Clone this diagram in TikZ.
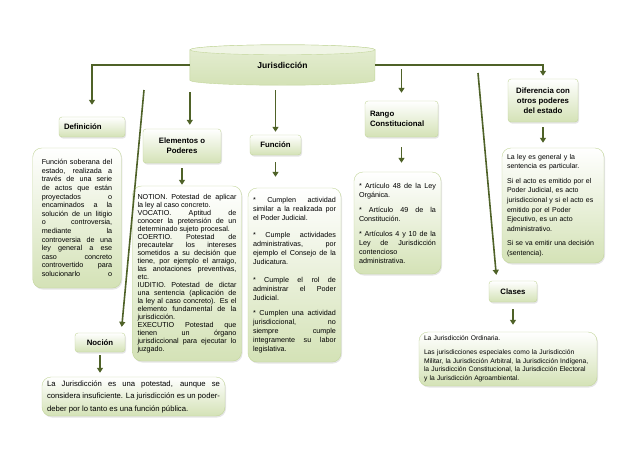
\documentclass[tikz,border=0pt]{standalone}
\usepackage{fontspec}
\setmainfont{Liberation Sans}
\usetikzlibrary{arrows.meta,positioning,calc,shadows,backgrounds}
\definecolor{lineolive}{HTML}{4F6228}
\definecolor{boxgreen}{HTML}{D4E2B6}
\definecolor{boxedge}{HTML}{C3D69B}

\begin{document}
\begin{tikzpicture}[
  x=1pt, y=-1pt, >={Triangle[width=6pt,length=5pt]},
  conn/.style={->, draw=lineolive, line width=1.6pt},
  headbox/.style={rectangle, rounded corners=3pt, draw=boxedge, top color=white, bottom color=boxgreen, align=center, inner xsep=5pt, inner ysep=2pt,
    font=\bfseries\fontsize{7.8}{10}\selectfont, drop shadow={shadow xshift=1pt, shadow yshift=-1.5pt, opacity=0.2}},
  notebox/.style={rectangle, rounded corners=9pt, draw=boxedge, top color=white, bottom color=boxgreen, align=justify, inner xsep=5pt, inner ysep=3pt,
    font=\fontsize{7.2}{9}\selectfont,
    execute at begin node={\setlength{\parindent}{0pt}\hyphenpenalty=10000 \tolerance=10000 },
    drop shadow={shadow xshift=1pt, shadow yshift=-1.5pt, opacity=0.2}}
]
\useasboundingbox (0,0) rectangle (638,451);

% top node
\node[minimum width=185pt, minimum height=40pt, font=\bfseries\fontsize{8.5}{10}\selectfont] (jur) at (282.5,65) {Jurisdicción};
\begin{scope}[on background layer]
  \fill[white] (0,0) rectangle (638,451);
  \path[draw=boxedge, top color=boxgreen!60, bottom color=boxgreen] ($(jur.north west)+(0,5)$) -- ($(jur.south west)+(0,-5)$)
    arc[start angle=180, end angle=360, x radius=92.5pt, y radius=5pt] -- ($(jur.north east)+(0,5)$)
    arc[start angle=0, end angle=180, x radius=92.5pt, y radius=5pt] -- cycle;
  \path[draw=boxedge, fill=boxgreen!35] ($(jur.north)+(0,5)$) ellipse[x radius=92.5pt, y radius=5pt];
\end{scope}

% headings
\node[headbox, text width=56pt, align=left, minimum height=20pt] (def) at (92,127) {Definición};
\node[headbox, minimum width=78pt, minimum height=34pt] (elem) at (182,146) {Elementos o\\Poderes};
\node[headbox, minimum width=51pt, minimum height=20pt] (fun) at (275.5,145) {Función};
\node[headbox, text width=63pt, align=left, minimum height=36pt] (rango) at (401.5,119) {Rango\\Constitucional};
\node[headbox, minimum width=70pt, minimum height=43pt] (dif) at (543,100.5) {Diferencia con\\otros poderes\\del estado};
\node[headbox, minimum width=48pt, minimum height=21pt] (cls) at (513,291.5) {Clases};
\node[headbox, minimum width=50pt, minimum height=19pt] (noc) at (100,342.5) {Noción};

% texts
\node[notebox, text width=70.5pt, inner xsep=9pt, minimum height=140pt, font=\fontsize{7.2}{8.6}\selectfont] (deftxt) at (77,218) {Función soberana del\linebreak estado, realizada a\linebreak través de una serie\linebreak de actos que están\linebreak proyectados o\linebreak encaminados a la\linebreak solución de un litigio\linebreak o controversia,\linebreak mediante la\linebreak controversia de una\linebreak ley general a ese\linebreak caso concreto\linebreak controvertido para\linebreak solucionarlo\hfill o};
\node[notebox, text width=99pt, minimum height=175pt, font=\fontsize{7.2}{8}\selectfont] (elemtxt) at (187,273.5) {NOTION. Potestad de aplicar\linebreak la ley al caso concreto.\par
VOCATIO. Aptitud de\linebreak conocer la pretensión de un\linebreak determinado sujeto procesal.\par
COERTIO. Potestad de\linebreak precautelar los intereses\linebreak sometidos a su decisión que\linebreak tiene, por ejemplo el arraigo,\linebreak las anotaciones preventivas,\linebreak etc.\par
IUDITIO. Potestad de dictar\linebreak una sentencia (aplicación de\linebreak la ley al caso concreto). Es el\linebreak elemento fundamental de la\linebreak jurisdicción.\par
EXECUTIO Potestad que\linebreak tienen un órgano\linebreak jurisdiccional para ejecutar lo\linebreak juzgado.};
\node[notebox, text width=83pt, minimum height=174pt] (funtxt) at (294.5,275) {* Cumplen actividad\linebreak similar a la realizada por\linebreak el Poder Judicial.\par\vspace{8pt}
* Cumple actividades\linebreak administrativas, por\linebreak ejemplo el Consejo de la\linebreak Judicatura.\par\vspace{9pt}
* Cumple el rol de\linebreak administrar el Poder\linebreak Judicial.\par\vspace{6pt}
* Cumplen una actividad\linebreak jurisdiccional, no\linebreak siempre cumple\linebreak integramente su labor\linebreak legislativa.};
\node[notebox, text width=77pt, minimum height=102pt] (rangotxt) at (397.5,223) {* Artículo 48 de la Ley\linebreak Orgánica.\par\vspace{6pt}
* Artículo 49 de la\linebreak Constitución.\par\vspace{6pt}
* Artículos 4 y 10 de la\linebreak Ley de Jurisdicción\linebreak contencioso\linebreak administrativa.};
\node[notebox, text width=92pt, minimum height=115pt, align=left, font=\fontsize{7}{9.6}\selectfont] (diftxt) at (553,205.5) {La ley es general y la\\
sentencia es particular.\\[5pt]
Si el acto es emitido por el\\
Poder Judicial, es acto\\
jurisdiccional y si el acto es\\
emitido por el Poder\\
Ejecutivo, es un acto\\
administrativo.\\[5pt]
Si se va emitir una decisión\\
(sentencia).};
\node[notebox, text width=168pt, minimum height=54pt, align=left, font=\fontsize{6.7}{8.7}\selectfont] (clstxt) at (508,359) {La Jurisdicción Ordinaria.\\[5pt]
Las jurisdicciones especiales como la Jurisdicción\\
Militar, la Jurisdicción Arbitral, la Jurisdicción Indígena,\\
la Jurisdicción Constitucional, la Jurisdicción Electoral\\
y la Jurisdicción Agroambiental.};
\node[notebox, text width=173pt, minimum height=39pt, font=\fontsize{7.7}{12.5}\selectfont] (noctxt) at (133.5,396.5) {La Jurisdicción es una potestad, aunque se\linebreak considera insuficiente. La jurisdicción es un poder-\linebreak deber por lo tanto es una función pública.};

% connectors
\coordinate (clsfrom) at (478,73);
\coordinate (nocfrom) at (144,90);
\draw[conn, shorten >=12pt] (jur.west) -| (def.north);
\draw[conn, shorten >=3pt] (jur.east) -| (dif.north);
\draw[conn, shorten <=7pt, shorten >=4pt] (jur.south west) -- (jur.south west |- elem.north);
\draw[conn, shorten <=5pt, shorten >=3pt] (jur.south -| fun.north) -- (fun.north);
\draw[conn, shorten <=4pt, shorten >=8pt] (jur.east -| rango.north) -- (rango.north);
\draw[conn, shorten >=6pt] (clsfrom) -- ($(cls.north west)+(8,0)$);
\draw[conn, shorten >=6pt] (nocfrom) -- ($(noc.north east)+(-4,0)$);
\draw[conn, shorten <=5pt, shorten >=1pt] (elem.south) -- (elem.south |- elemtxt.north);
\draw[conn, shorten <=7pt, shorten >=11pt] (fun.south) -- (fun.south |- funtxt.north);
\draw[conn, shorten <=10pt, shorten >=9pt] (rango.south) -- (rango.south |- rangotxt.north);
\draw[conn, shorten <=5pt, shorten >=5pt] (dif.south) -- (dif.south |- diftxt.north);
\draw[conn, shorten <=7pt, shorten >=7pt] (cls.south) -- (cls.south |- clstxt.north);
\draw[conn, shorten <=3pt, shorten >=4pt] (noc.south) -- (noc.south |- noctxt.north);
\end{tikzpicture}
\end{document}
